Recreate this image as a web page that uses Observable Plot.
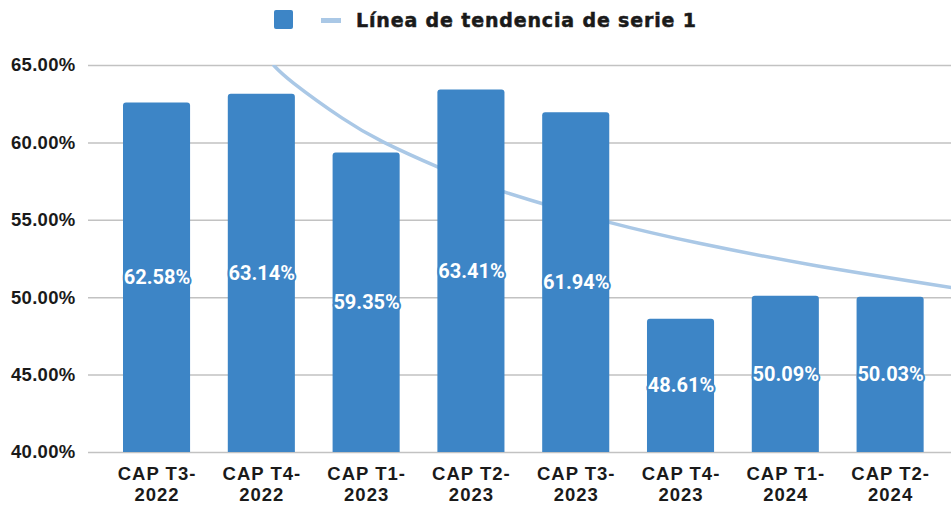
<!DOCTYPE html>
<html>
<head>
<meta charset="utf-8">
<script src="https://cdn.jsdelivr.net/npm/d3@7"></script>
<script src="https://cdn.jsdelivr.net/npm/@observablehq/plot@0.6"></script>
<style>
  html, body { margin: 0; padding: 0; background: #fff; }
  #wrap { position: relative; width: 951px; height: 505px; overflow: hidden; }
  #legend { position: absolute; left: 0; top: 0; width: 951px; height: 40px; }
  .sw { position: absolute; }
  #ltext { position: absolute; left: 356px; top: 11px; font: bold 19px "DejaVu Sans"; line-height: 19px; color: #1a1a1a; white-space: nowrap; letter-spacing: 0.85px; -webkit-text-stroke: 0.5px #1a1a1a; }
  g[aria-label="x-axis tick label"] text { letter-spacing: 1px; }
  g[aria-label="y-axis tick label"] text { letter-spacing: 0.3px; }
</style>
</head>
<body>
<div id="wrap">
  <div id="chart"></div>
  <div id="legend">
    <div class="sw" style="left:274px;top:10px;width:19px;height:19px;background:#3d85c6;border-radius:2px;"></div>
    <div class="sw" style="left:321px;top:18px;width:20px;height:5px;background:#aac8e6;"></div>
    <div id="ltext">Línea de tendencia de serie 1</div>
  </div>
</div>
<script>
const categories = ["CAP T3-\n2022", "CAP T4-\n2022", "CAP T1-\n2023", "CAP T2-\n2023", "CAP T3-\n2023", "CAP T4-\n2023", "CAP T1-\n2024", "CAP T2-\n2024"];
const values = [62.58, 63.14, 59.35, 63.41, 61.94, 48.61, 50.09, 50.03];
// trend line points (category position, value)
const trendPos = [2.115, 2.305, 2.767, 3.161, 3.677, 4.306, 5.298, 6.186, 7.264, 8.58];
const trendVal = [65.0, 63.85, 61.6, 60.05, 58.45, 56.85, 54.9, 53.5, 52.1, 50.66];
const yTicks = [40, 45, 50, 55, 60, 65];

const bars = values.map((v, k) => ({i: k + 1, v}));
const trend = trendPos.map((p, k) => ({p, t: trendVal[k]}));
const half = 0.32;

const chart = Plot.plot({
  width: 951,
  height: 505,
  marginLeft: 88,
  marginRight: 0,
  marginTop: 65,
  marginBottom: 53,
  x: {domain: [0.346, 8.581], axis: null},
  y: {domain: [40, 65], axis: null},
  style: {background: "#fff"},
  marks: [
    Plot.ruleY(yTicks, {stroke: "#c2c2c2", strokeWidth: 1.5}),
    Plot.line(trend, {x: "p", y: "t", stroke: "#aac8e6", strokeWidth: 3.5, curve: "natural", clip: true}),
    Plot.rectY(bars, {x1: d => d.i - half, x2: d => d.i + half, y1: 39.5, y2: "v", fill: "#3d85c6", rx: 3, clip: true}),
    Plot.text(bars, {x: "i", y: d => (40 + d.v) / 2, text: d => d.v.toFixed(2) + "%", fill: "white", stroke: "#3d85c6", strokeWidth: 4, fontSize: 20, fontWeight: "bold", fontFamily: "Roboto"}),
    Plot.axisY(yTicks, {tickFormat: d => d.toFixed(2) + "%", tickSize: 0, tickPadding: 13, fontSize: 18.5, fontWeight: "bold", fontFamily: "Liberation Sans", fill: "#1a1a1a"}),
    Plot.axisX(d3.range(1, 9), {tickFormat: i => categories[i - 1], tickSize: 0, tickPadding: 12, lineHeight: 1.16, fontSize: 18.5, fontWeight: "bold", fontFamily: "Liberation Sans", fill: "#1a1a1a"})
  ]
});
document.getElementById("chart").appendChild(chart);
</script>
</body>
</html>
